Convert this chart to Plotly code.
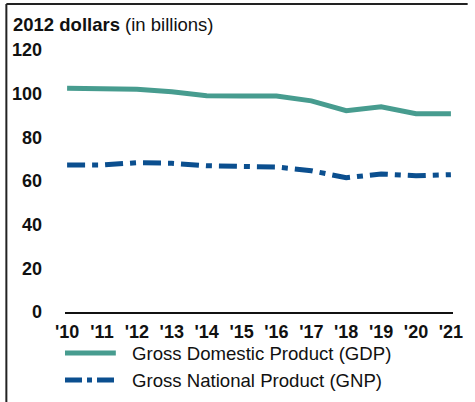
import plotly.graph_objects as go

# Real output, 2012 dollars, billions
years = [2010, 2011, 2012, 2013, 2014, 2015, 2016, 2017, 2018, 2019, 2020, 2021]
year_labels = ["'10", "'11", "'12", "'13", "'14", "'15", "'16", "'17", "'18", "'19", "'20", "'21"]
gdp = [102.5, 102.5, 102.0, 100.9, 99.1, 98.9, 98.9, 96.7, 92.2, 94.0, 90.8, 90.8]
gnp = [67.3, 67.3, 68.4, 68.1, 67.0, 66.7, 66.4, 64.7, 61.5, 63.2, 62.4, 62.9]
y_ticks = [0, 20, 40, 60, 80, 100, 120]

series_names = ["Gross Domestic Product (GDP)", "Gross National Product (GNP)"]
series_colors = ["#479c8f", "#0b4f8f"]
gnp_dash = "18px,7px,6px,7px"

FONT = "Arial, Liberation Sans, sans-serif"
INK = "#111111"

W, H = 475, 402
ML, MR, MT, MB = 63, 15, 50, 90
PW, PH = W - ML - MR, H - MT - MB


def px_x(x):
    return (x - ML) / PW


def px_y(y):
    return (H - MB - y) / PH


fig = go.Figure()
fig.add_trace(go.Scatter(
    x=years, y=gdp, mode="lines", name=series_names[0],
    line=dict(color=series_colors[0], width=5), showlegend=False,
))
fig.add_trace(go.Scatter(
    x=years, y=gnp, mode="lines", name=series_names[1],
    line=dict(color=series_colors[1], width=5, dash=gnp_dash), showlegend=False,
))

shapes = [
    # frame: left and top rules
    dict(type="line", xref="paper", yref="paper", x0=px_x(3), x1=px_x(3),
         y0=px_y(4), y1=px_y(H), line=dict(color="#222222", width=2)),
    dict(type="line", xref="paper", yref="paper", x0=px_x(3), x1=px_x(W),
         y0=px_y(4), y1=px_y(4), line=dict(color="#222222", width=2)),
    # legend keys
    dict(type="line", xref="paper", yref="paper", x0=px_x(63), x1=px_x(115),
         y0=px_y(353), y1=px_y(353), line=dict(color=series_colors[0], width=5)),
    dict(type="line", xref="paper", yref="paper", x0=px_x(63), x1=px_x(115),
         y0=px_y(380), y1=px_y(380),
         line=dict(color=series_colors[1], width=5, dash="17px,5px,5px,5px")),
]

annotations = [
    dict(text="<b>2012 dollars</b> (in billions)", xref="paper", yref="paper",
         x=px_x(8), y=px_y(25), xanchor="left", yanchor="middle",
         showarrow=False, font=dict(family=FONT, size=18.5, color=INK)),
    dict(text=series_names[0], xref="paper", yref="paper",
         x=px_x(129), y=px_y(353), xanchor="left", yanchor="middle",
         showarrow=False, font=dict(family=FONT, size=18.6, color=INK)),
    dict(text=series_names[1], xref="paper", yref="paper",
         x=px_x(129), y=px_y(380), xanchor="left", yanchor="middle",
         showarrow=False, font=dict(family=FONT, size=18.6, color=INK)),
]

fig.update_layout(
    width=W, height=H,
    margin=dict(l=ML, r=MR, t=MT, b=MB),
    paper_bgcolor="white", plot_bgcolor="white",
    font=dict(family=FONT, color=INK),
    shapes=shapes, annotations=annotations,
    xaxis=dict(
        range=[2009.94, 2021.06], tickvals=years, ticktext=year_labels,
        showgrid=False, zeroline=False, showline=True, linecolor="#111111", linewidth=2,
        ticks="", ticklabelstandoff=2,
        tickfont=dict(family=FONT, size=18, color=INK, weight="bold"),
        fixedrange=True,
    ),
    yaxis=dict(
        range=[0, 120], tickvals=y_ticks,
        showgrid=False, zeroline=False, showline=False, ticks="",
        ticklabelstandoff=22,
        tickfont=dict(family=FONT, size=18, color=INK, weight="bold"),
        fixedrange=True,
    ),
)

fig.write_html("out.html", config={"displayModeBar": False})
